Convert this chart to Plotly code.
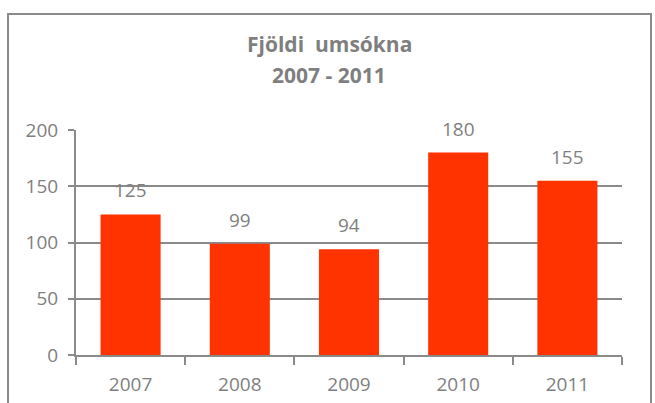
import plotly.graph_objects as go

years = ["2007", "2008", "2009", "2010", "2011"]
applications = [125, 99, 94, 180, 155]
y_ticks = [0, 50, 100, 150, 200]
title_line1 = "Fjöldi \u00a0umsókna"
title_line2 = "2007 - 2011"

GRAY = "#7f7f7f"
LINE = "#8a8a8a"
FONT = "Open Sans, Liberation Sans, sans-serif"

fig = go.Figure()
fig.add_trace(go.Bar(
    x=years, y=applications, width=0.55,
    marker=dict(color="#ff3300", line=dict(width=0)),
    hoverinfo="skip",
))

# value labels (category index positions, since the category names look numeric)
for i, v in enumerate(applications):
    fig.add_annotation(x=i, y=v, text=str(v), showarrow=False,
                       yanchor="middle", yshift=24,
                       font=dict(family=FONT, size=19, color=GRAY))

fig.add_annotation(xref="paper", yref="paper", x=0.4634, y=1.382,
                   text="<b>" + title_line1 + "</b>", showarrow=False,
                   yanchor="middle", font=dict(family=FONT, size=21, color=GRAY))
fig.add_annotation(xref="paper", yref="paper", x=0.4634, y=1.2444,
                   text="<b>" + title_line2 + "</b>", showarrow=False,
                   yanchor="middle", font=dict(family=FONT, size=21, color=GRAY))

# outer chart border
fig.add_shape(type="rect", xref="paper", yref="paper",
              x0=-0.1245, x1=1.0531, y0=-0.6, y1=1.5156,
              line=dict(color=LINE, width=2), layer="below")

fig.update_layout(
    width=655, height=403,
    margin=dict(l=76, r=33, t=130, b=48, autoexpand=False),
    paper_bgcolor="white", plot_bgcolor="white",
    showlegend=False,
    font=dict(family=FONT, size=19, color=GRAY),
)
fig.update_xaxes(
    type="category", range=[-0.5, 4.5], showline=True, linecolor=LINE, linewidth=2,
    ticks="outside", tickson="boundaries", ticklen=8, tickwidth=2, tickcolor=LINE,
    tickfont=dict(family=FONT, size=19, color=GRAY), automargin=False,
    showgrid=False, zeroline=False, ticklabelstandoff=11,
)
fig.update_yaxes(
    range=[0, 200], tickvals=y_ticks, showline=True, linecolor=LINE, linewidth=2,
    ticks="outside", ticklen=6, tickwidth=2, tickcolor=LINE,
    tickfont=dict(family=FONT, size=19, color=GRAY), automargin=False,
    showgrid=True, gridcolor=LINE, gridwidth=2, zeroline=False,
    ticklabelstandoff=6,
)

fig.write_html(
    "out.html",
    config={"displayModeBar": False},
    post_script="document.body.style.margin='0';document.body.style.overflow='hidden';",
)
